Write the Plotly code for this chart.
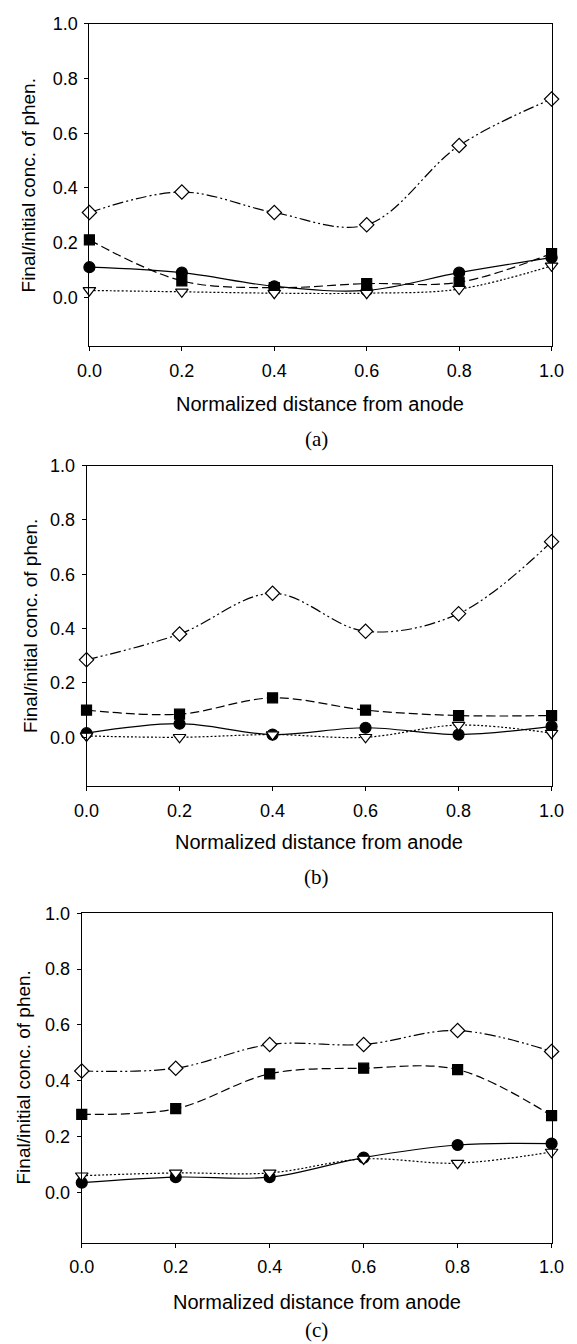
import plotly.graph_objects as go

# ---- data ----
x_vals = [0.0, 0.2, 0.4, 0.6, 0.8, 1.0]

# panel (a)
a_circle = [0.11, 0.09, 0.04, 0.025, 0.09, 0.145]
a_square = [0.21, 0.06, 0.035, 0.05, 0.055, 0.16]
a_triangle = [0.025, 0.02, 0.015, 0.015, 0.03, 0.115]
a_diamond = [0.31, 0.385, 0.31, 0.265, 0.555, 0.725]

# panel (b)
b_circle = [0.015, 0.05, 0.01, 0.035, 0.01, 0.04]
b_square = [0.10, 0.085, 0.145, 0.10, 0.08, 0.08]
b_triangle = [0.005, 0.0, 0.01, 0.0, 0.045, 0.015]
b_diamond = [0.285, 0.38, 0.53, 0.39, 0.455, 0.72]

# panel (c)
c_circle = [0.035, 0.055, 0.055, 0.125, 0.17, 0.175]
c_square = [0.28, 0.30, 0.425, 0.445, 0.44, 0.275]
c_triangle = [0.06, 0.07, 0.07, 0.12, 0.105, 0.145]
c_diamond = [0.435, 0.445, 0.53, 0.53, 0.58, 0.505]

panel_labels = ["(a)", "(b)", "(c)"]
x_title = "Normalized distance from anode"
y_title = "Final/initial conc. of phen."
tick_vals = [0.0, 0.2, 0.4, 0.6, 0.8, 1.0]

panels = [
    (a_circle, a_square, a_triangle, a_diamond),
    (b_circle, b_square, b_triangle, b_diamond),
    (c_circle, c_square, c_triangle, c_diamond),
]

# ---- layout geometry (page pixels) ----
W, H = 577, 1344
boxes = [  # left, right, top, bottom
    (80, 564, 14, 339),
    (77, 564, 459, 782),
    (72, 564, 910, 1242),
]
xtitle_y = [397, 838, 1302]
label_y = [432, 874, 1330]
ytitle_x = [16, 19, 11]


def px(v):
    return v / W


def py(v):
    return 1 - v / H


SANS = "Liberation Sans, Arial, sans-serif"
SERIF = "Liberation Serif, Times New Roman, serif"

fig = go.Figure()

styles = [
    dict(name="circle", symbol="circle", size=11, fill="black", dash="solid"),
    dict(name="square", symbol="square", size=10, fill="black", dash="9px,4px"),
    dict(name="triangle", symbol="triangle-down", size=11, fill="white", dash="2px,2px"),
    dict(name="diamond", symbol="diamond", size=11, fill="white", dash="11px,3px,2px,3px,2px,3px"),
]

annotations = []
for i, (series, box) in enumerate(zip(panels, boxes)):
    l, r, t, b = box
    xa = "xaxis" if i == 0 else f"xaxis{i+1}"
    ya = "yaxis" if i == 0 else f"yaxis{i+1}"
    xref = "x" if i == 0 else f"x{i+1}"
    yref = "y" if i == 0 else f"y{i+1}"
    for ys, st in zip(series, styles):
        fig.add_trace(go.Scatter(
            x=x_vals, y=ys, mode="lines+markers", name=st["name"],
            xaxis=xref, yaxis=yref, showlegend=False,
            line=dict(color="black", width=1.2, dash=st["dash"], shape="spline", smoothing=1.0),
            marker=dict(symbol=st["symbol"], size=st["size"], color=st["fill"],
                        line=dict(color="black", width=1.2)),
            cliponaxis=False,
        ))
    fig.update_layout(**{
        xa: dict(domain=[px(l), px(r)], range=[0, 1], anchor=yref,
                 tickvals=tick_vals, tickformat=".1f", ticks="outside", ticklen=4,
                 tickcolor="black", showline=True, linecolor="black", linewidth=1,
                 mirror=True, showgrid=False, zeroline=False,
                 tickfont=dict(family=SANS, size=18, color="black"),
                 ticklabelstandoff=4, ticklabeloverflow="allow"),
        ya: dict(domain=[py(b), py(t)], range=[-0.18, 1.0], anchor=xref,
                 tickvals=tick_vals, tickformat=".1f", ticks="outside", ticklen=4,
                 tickcolor="black", showline=True, linecolor="black", linewidth=1,
                 mirror=True, showgrid=False, zeroline=False,
                 tickfont=dict(family=SANS, size=18, color="black"),
                 ticklabelstandoff=3, ticklabeloverflow="allow"),
    })
    annotations.append(dict(
        text=x_title, xref="paper", yref="paper", x=px((l + r) / 2), y=py(xtitle_y[i]),
        xanchor="center", yanchor="middle", showarrow=False,
        font=dict(family=SANS, size=20, color="black")))
    annotations.append(dict(
        text=panel_labels[i], xref="paper", yref="paper", x=px(318), y=py(label_y[i]),
        xanchor="center", yanchor="middle", showarrow=False,
        font=dict(family=SERIF, size=21, color="black")))
    annotations.append(dict(
        text=y_title, xref="paper", yref="paper", x=px(ytitle_x[i]), y=py((t + b) / 2),
        xanchor="center", yanchor="middle", showarrow=False, textangle=-90,
        font=dict(family=SANS, size=19, color="black")))

fig.update_layout(
    width=W, height=H, margin=dict(l=0, r=0, t=0, b=0),
    paper_bgcolor="white", plot_bgcolor="white",
    annotations=annotations, showlegend=False,
)

fig.write_html(
    "out.html",
    config={"displayModeBar": False},
    post_script=(
        "document.body.style.margin='0';"
        "document.documentElement.style.overflow='hidden';"
        "document.body.style.overflow='hidden';"
    ),
)
